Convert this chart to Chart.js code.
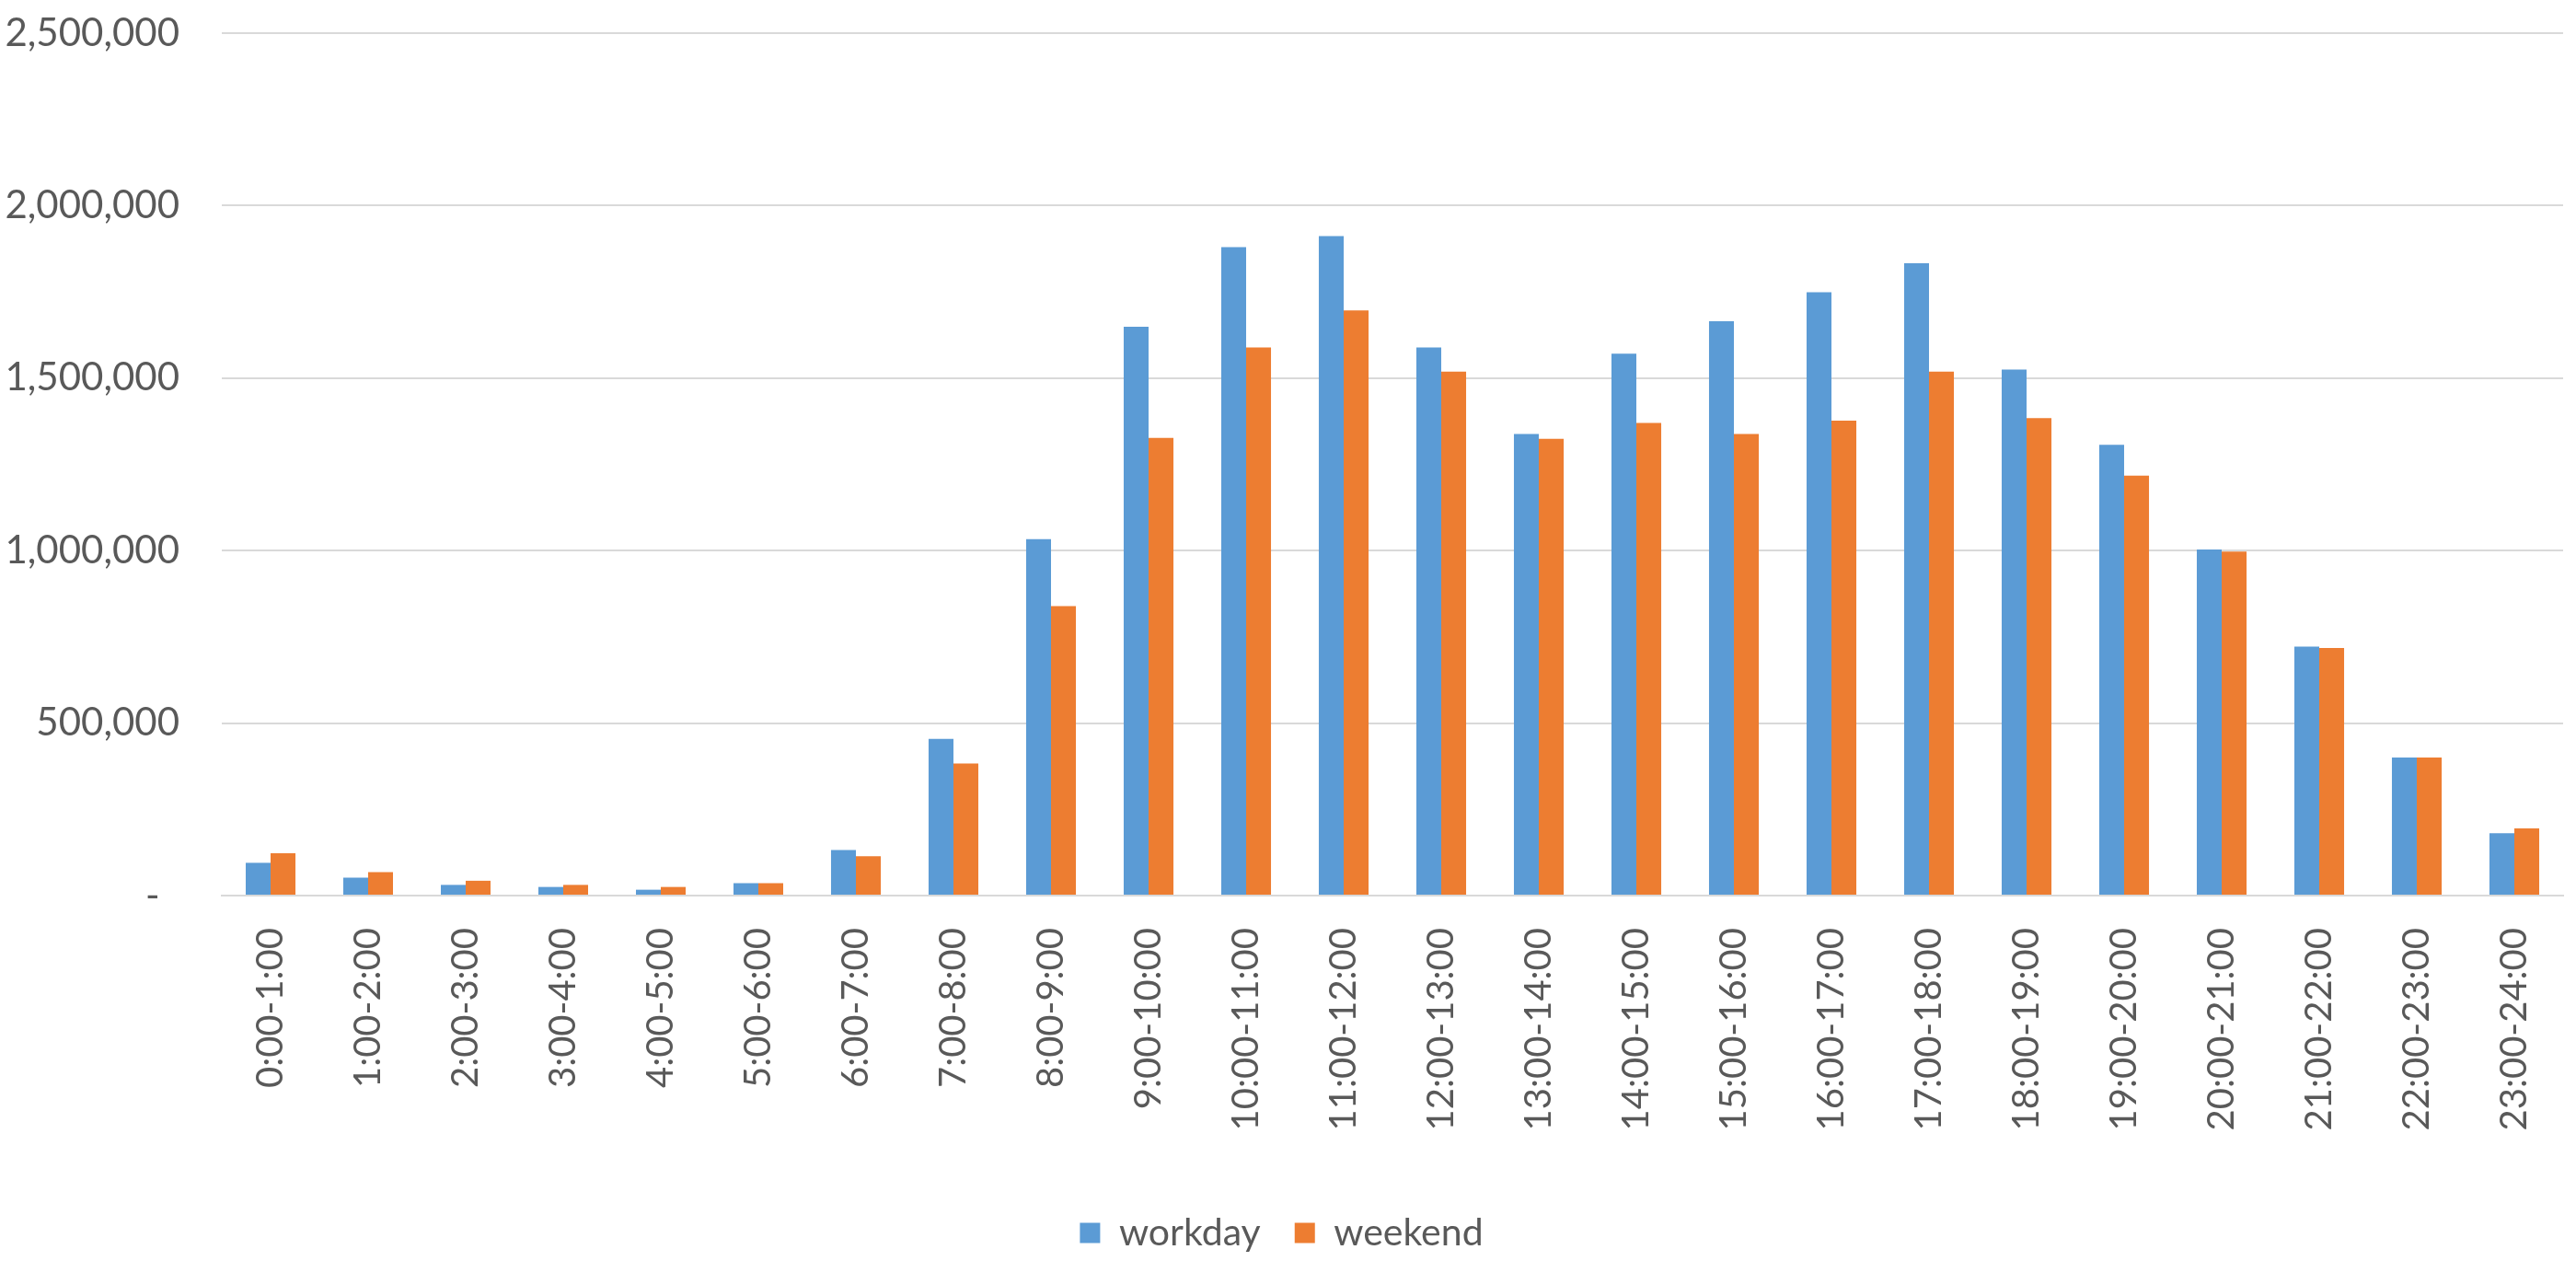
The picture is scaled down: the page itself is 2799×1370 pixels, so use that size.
<!DOCTYPE html>
<html>
<head>
<meta charset="utf-8">
<script src="https://cdn.jsdelivr.net/npm/chart.js@4"></script>
<style>
  html, body { margin: 0; padding: 0; background: #fff; }
  #wrap { width: 2799px; height: 1370px; }
</style>
</head>
<body>
<div id="wrap"><canvas id="hourChart" width="2799" height="1370"></canvas></div>
<script>
// hourly buckets
const hours = [
    "0:00-1:00", "1:00-2:00", "2:00-3:00", "3:00-4:00", "4:00-5:00", "5:00-6:00",
    "6:00-7:00", "7:00-8:00", "8:00-9:00", "9:00-10:00", "10:00-11:00", "11:00-12:00",
    "12:00-13:00", "13:00-14:00", "14:00-15:00", "15:00-16:00", "16:00-17:00", "17:00-18:00",
    "18:00-19:00", "19:00-20:00", "20:00-21:00", "21:00-22:00", "22:00-23:00", "23:00-24:00"
];

// values
const workday = [
    95000, 52000, 31000, 25000, 17000, 36000,
    132000, 454000, 1033000, 1649000, 1880000, 1912000,
    1589000, 1338000, 1571000, 1665000, 1749000, 1833000,
    1525000, 1307000, 1003000, 722000, 400000, 181000
];
const weekend = [
    123000, 68000, 43000, 31000, 25000, 36000,
    114000, 383000, 839000, 1327000, 1589000, 1696000,
    1519000, 1324000, 1370000, 1338000, 1377000, 1519000,
    1384000, 1217000, 997000, 718000, 400000, 195000
];

const yTicks = [0, 500000, 1000000, 1500000, 2000000, 2500000];

const textColor = "#595959";
const gridColor = "#d9d9d9";

function drawChart() {
    const ctx = document.getElementById("hourChart").getContext("2d");
    const chart = new Chart(ctx, {
        type: "bar",
        data: {
            labels: hours,
            datasets: [
                {
                    label: "workday",
                    data: workday,
                    backgroundColor: "#5B9BD5",
                    borderWidth: 0,
                },
                {
                    label: "weekend",
                    data: weekend,
                    backgroundColor: "#ED7D31",
                    borderWidth: 0,
                },
            ],
        },
        options: {
            responsive: false,
            animation: false,
            layout: {
                padding: { left: 0, right: 14, top: 36, bottom: 0 },
            },
            datasets: {
                bar: {
                    barPercentage: 1.0,
                    categoryPercentage: 0.51,
                },
            },
            plugins: {
                legend: {
                    position: "bottom",
                    labels: {
                        color: textColor,
                        font: { family: "Lato", size: 41 },
                        boxWidth: 22,
                        boxHeight: 22,
                        padding: 37,
                    },
                },
                tooltip: { enabled: false },
            },
            scales: {
                x: {
                    grid: { display: false },
                    border: { color: gridColor, width: 2 },
                    ticks: {
                        color: textColor,
                        font: { family: "Lato", size: 40 },
                        minRotation: 90,
                        maxRotation: 90,
                        autoSkip: false,
                        padding: 27,
                    },
                    afterFit: (scale) => {
                        scale.height = 309;
                        scale.paddingLeft = 0;
                        scale.paddingRight = 0;
                    },
                },
                y: {
                    min: 0,
                    max: 2500000,
                    afterBuildTicks: (scale) => {
                        scale.ticks = yTicks.map((v) => ({ value: v }));
                    },
                    grid: { color: gridColor, lineWidth: 2, drawTicks: false },
                    border: { display: false },
                    ticks: {
                        color: textColor,
                        font: { family: "Lato", size: 42 },
                        padding: 46,
                        callback: (v) => (v === 0 ? "-  " : v.toLocaleString("en-US")),
                    },
                    afterFit: (scale) => {
                        scale.width = 241;
                        scale.paddingTop = 0;
                        scale.paddingBottom = 0;
                    },
                },
            },
        },
    });
    return chart;
}

document.addEventListener("DOMContentLoaded", drawChart);
</script>
</body>
</html>
